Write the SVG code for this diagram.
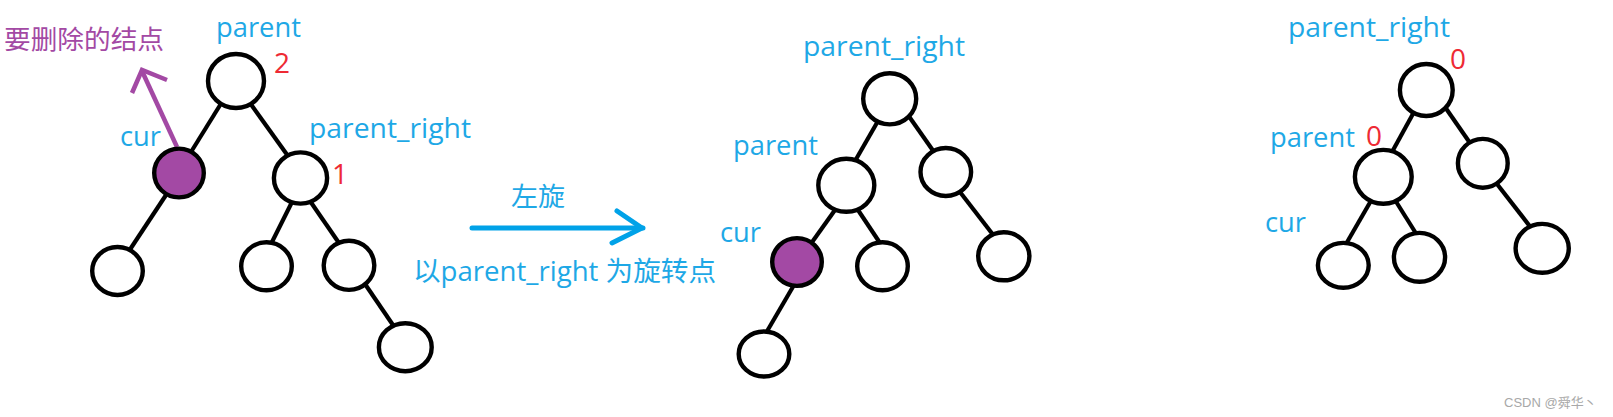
<svg xmlns="http://www.w3.org/2000/svg" width="1613" height="417" viewBox="0 0 1613 417">
<style>
.n{fill:#ffffff;stroke:#000000;stroke-width:4.4}
.del{fill:#a349a4;stroke:#000000;stroke-width:4.4}
.e{stroke:#000000;stroke-width:4.2;stroke-linecap:butt;fill:none}
.t{font-family:"Open Sans","Noto Sans CJK SC",sans-serif;font-size:27px;fill:#1ea8e6}
.cn{font-family:"Noto Sans CJK SC","Open Sans",sans-serif;font-size:26px;fill:#1ea8e6}
.bf{font-family:"Open Sans",sans-serif;font-size:28px;fill:#ee2a34}
.pu{font-family:"Noto Sans CJK SC",sans-serif;font-size:26px;fill:#a349a4}
.wm{font-family:"Liberation Sans","Noto Sans CJK SC",sans-serif;font-size:13px;fill:#a8a8a8}
</style>
<rect width="1613" height="417" fill="#ffffff"/>
<g id="connectors">
  <line class="e" x1="222" y1="102" x2="191" y2="152"/>
  <line class="e" x1="250" y1="103" x2="288" y2="156"/>
  <line class="e" x1="166" y1="195" x2="129" y2="251"/>
  <line class="e" x1="292" y1="202" x2="271" y2="244"/>
  <line class="e" x1="310" y1="201" x2="339" y2="243"/>
  <line class="e" x1="365" y1="284" x2="395" y2="328"/>
  <line class="e" x1="878" y1="121" x2="855" y2="161"/>
  <line class="e" x1="908" y1="115" x2="934" y2="152"/>
  <line class="e" x1="835" y1="210" x2="810" y2="245"/>
  <line class="e" x1="858" y1="210" x2="880" y2="243"/>
  <line class="e" x1="960" y1="192" x2="994" y2="236"/>
  <line class="e" x1="794" y1="285" x2="766" y2="333"/>
  <line class="e" x1="1414" y1="112" x2="1392" y2="152"/>
  <line class="e" x1="1445" y1="107" x2="1470" y2="143"/>
  <line class="e" x1="1372" y1="199" x2="1346" y2="244"/>
  <line class="e" x1="1395" y1="200" x2="1417" y2="235"/>
  <line class="e" x1="1497" y1="184" x2="1532" y2="229"/>
  <path d="M177 147 L142 71" stroke="#a349a4" stroke-width="4.5" fill="none"/>
  <path d="M132 93 L142 70 L167 80" stroke="#a349a4" stroke-width="4.5" fill="none" stroke-linejoin="miter"/>
  <path d="M472 228 L643 228" stroke="#00a2e8" stroke-width="5" fill="none" stroke-linecap="round"/>
  <path d="M617 211 L642 228 L612 243" stroke="#00a2e8" stroke-width="5" fill="none" stroke-linecap="round" stroke-linejoin="round"/>
</g>
<g id="left-parent"><ellipse class="n" cx="236" cy="81" rx="28" ry="27"/></g>
<g id="left-cur"><ellipse class="del" cx="179" cy="173" rx="24.8" ry="24.4"/></g>
<g id="left-parent-right"><ellipse class="n" cx="300.5" cy="178" rx="26.6" ry="25.6"/></g>
<g id="left-cur-left"><ellipse class="n" cx="117.5" cy="271" rx="25.3" ry="24"/></g>
<g id="left-pr-left"><ellipse class="n" cx="266.5" cy="266.3" rx="25.3" ry="24"/></g>
<g id="left-pr-right"><ellipse class="n" cx="349" cy="265.3" rx="25.3" ry="24.6"/></g>
<g id="left-pr-right-right"><ellipse class="n" cx="405.3" cy="347.2" rx="26.4" ry="24"/></g>

<g id="mid-parent-right"><ellipse class="n" cx="889.7" cy="98.8" rx="26.5" ry="25.6"/></g>
<g id="mid-parent"><ellipse class="n" cx="846.3" cy="185.3" rx="28" ry="26.5"/></g>
<g id="mid-pr-right"><ellipse class="n" cx="945.8" cy="172" rx="25.3" ry="24"/></g>
<g id="mid-cur"><ellipse class="del" cx="797" cy="262" rx="24.8" ry="23.9"/></g>
<g id="mid-parent-rightchild"><ellipse class="n" cx="882.5" cy="266.3" rx="25.3" ry="24"/></g>
<g id="mid-pr-right-right"><ellipse class="n" cx="1003.8" cy="256.3" rx="25.6" ry="24"/></g>
<g id="mid-cur-left"><ellipse class="n" cx="764" cy="354" rx="25.3" ry="22.5"/></g>

<g id="right-parent-right"><ellipse class="n" cx="1426.3" cy="90" rx="26.4" ry="26"/></g>
<g id="right-parent"><ellipse class="n" cx="1383.3" cy="176.8" rx="28.4" ry="26.9"/></g>
<g id="right-pr-right"><ellipse class="n" cx="1482.8" cy="163.3" rx="24.9" ry="24.4"/></g>
<g id="right-cur"><ellipse class="n" cx="1343.3" cy="265.3" rx="25.4" ry="22.4"/></g>
<g id="right-parent-rightchild"><ellipse class="n" cx="1419.5" cy="257.3" rx="25.6" ry="24.4"/></g>
<g id="right-pr-right-right"><ellipse class="n" cx="1542.2" cy="248.3" rx="26.6" ry="24.4"/></g>

<g id="labels">
  <text class="pu" x="4" y="49" textLength="160" lengthAdjust="spacingAndGlyphs">要删除的结点</text>
  <text class="t" x="216" y="37" textLength="85" lengthAdjust="spacingAndGlyphs">parent</text>
  <text class="bf" x="274" y="73">2</text>
  <text class="t" x="120" y="146" textLength="41" lengthAdjust="spacingAndGlyphs">cur</text>
  <text class="t" x="309" y="138" textLength="162" lengthAdjust="spacingAndGlyphs">parent_right</text>
  <text class="bf" x="332" y="184">1</text>
  <text class="cn" x="511" y="206" textLength="54" lengthAdjust="spacingAndGlyphs">左旋</text>
  <text class="t" x="413" y="281" textLength="303" lengthAdjust="spacingAndGlyphs">以parent_right 为旋转点</text>
  <text class="t" x="803" y="56" textLength="162" lengthAdjust="spacingAndGlyphs">parent_right</text>
  <text class="t" x="733" y="155" textLength="85" lengthAdjust="spacingAndGlyphs">parent</text>
  <text class="t" x="720" y="242" textLength="41" lengthAdjust="spacingAndGlyphs">cur</text>
  <text class="t" x="1288" y="37" textLength="162" lengthAdjust="spacingAndGlyphs">parent_right</text>
  <text class="bf" x="1450" y="69">0</text>
  <text class="t" x="1270" y="147" textLength="85" lengthAdjust="spacingAndGlyphs">parent</text>
  <text class="bf" x="1366" y="146">0</text>
  <text class="t" x="1265" y="232" textLength="41" lengthAdjust="spacingAndGlyphs">cur</text>
  <text class="wm" x="1504" y="407">CSDN @舜华丶</text>
</g>
</svg>
